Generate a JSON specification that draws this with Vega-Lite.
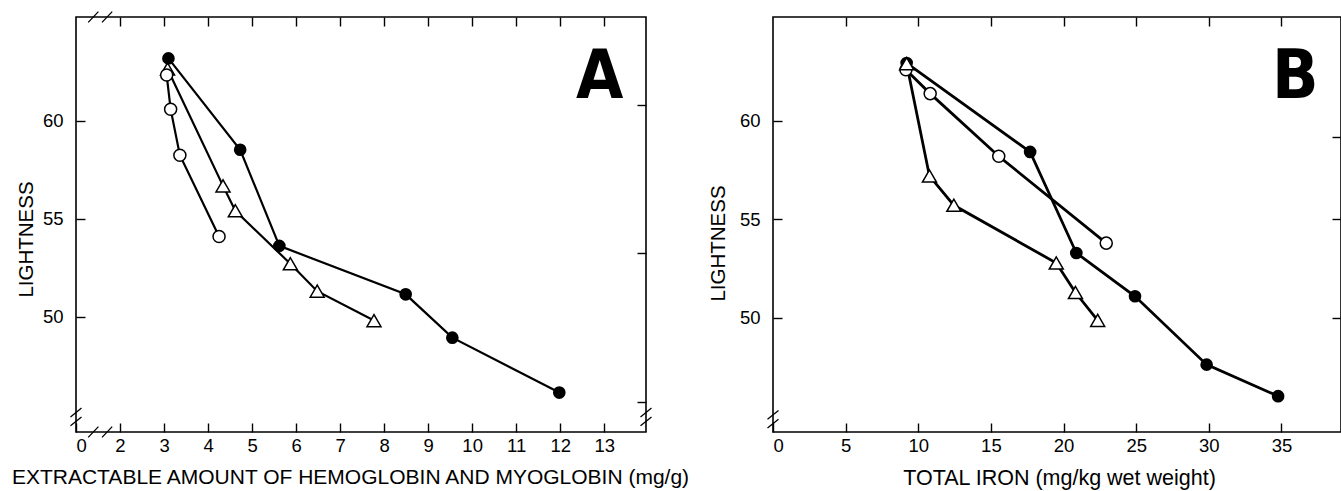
{
  "$schema": "https://vega.github.io/schema/vega-lite/v6.json",
  "background": "white",
  "padding": {"left": 9, "top": 8, "right": 0, "bottom": 0},
  "config": {
    "view": {"stroke": "black", "strokeWidth": 1.6},
    "font": "Liberation Sans",
    "axis": {
      "domain": false,
      "grid": false,
      "tickColor": "black",
      "tickSize": -9,
      "tickWidth": 1.4,
      "labelColor": "black",
      "labelFont": "Liberation Sans",
      "labelFontSize": 18.5,
      "titleColor": "black",
      "titleFont": "Liberation Sans",
      "titleFontSize": 20.5,
      "titleFontWeight": "normal"
    },
    "axisX": {"labelPadding": 13},
    "axisY": {"labelPadding": 22}
  },
  "datasets": {
    "curves": [
      {"panel": "A", "series": "filled", "x": 3.10, "y": 63.18},
      {"panel": "A", "series": "filled", "x": 4.73, "y": 58.52},
      {"panel": "A", "series": "filled", "x": 5.62, "y": 53.62},
      {"panel": "A", "series": "filled", "x": 8.49, "y": 51.15},
      {"panel": "A", "series": "filled", "x": 9.55, "y": 48.94},
      {"panel": "A", "series": "filled", "x": 11.98, "y": 46.14},
      {"panel": "A", "series": "open", "x": 3.06, "y": 62.33},
      {"panel": "A", "series": "open", "x": 3.15, "y": 60.59},
      {"panel": "A", "series": "open", "x": 3.36, "y": 58.24},
      {"panel": "A", "series": "open", "x": 4.25, "y": 54.10},
      {"panel": "A", "series": "triangle", "x": 3.08, "y": 62.64},
      {"panel": "A", "series": "triangle", "x": 4.34, "y": 56.68},
      {"panel": "A", "series": "triangle", "x": 4.62, "y": 55.41},
      {"panel": "A", "series": "triangle", "x": 5.87, "y": 52.71},
      {"panel": "A", "series": "triangle", "x": 6.48, "y": 51.31},
      {"panel": "A", "series": "triangle", "x": 7.77, "y": 49.81},
      {"panel": "B", "series": "filled", "x": 9.20, "y": 62.94},
      {"panel": "B", "series": "filled", "x": 17.70, "y": 58.43},
      {"panel": "B", "series": "filled", "x": 20.88, "y": 53.30},
      {"panel": "B", "series": "filled", "x": 24.92, "y": 51.10},
      {"panel": "B", "series": "filled", "x": 29.85, "y": 47.63},
      {"panel": "B", "series": "filled", "x": 34.77, "y": 46.03},
      {"panel": "B", "series": "open", "x": 9.15, "y": 62.60},
      {"panel": "B", "series": "open", "x": 10.82, "y": 61.39},
      {"panel": "B", "series": "open", "x": 15.54, "y": 58.21},
      {"panel": "B", "series": "open", "x": 22.94, "y": 53.80},
      {"panel": "B", "series": "triangle", "x": 9.20, "y": 62.91},
      {"panel": "B", "series": "triangle", "x": 10.77, "y": 57.21},
      {"panel": "B", "series": "triangle", "x": 12.45, "y": 55.72},
      {"panel": "B", "series": "triangle", "x": 19.50, "y": 52.79},
      {"panel": "B", "series": "triangle", "x": 20.82, "y": 51.29},
      {"panel": "B", "series": "triangle", "x": 22.35, "y": 49.88}
    ]
  },
  "spacing": 127,
  "bounds": "flush",
  "hconcat": [
    {
      "width": 570,
      "height": 415,
      "resolve": {"axis": {"x": "independent", "y": "independent"}},
      "layer": [
        {
          "data": {"name": "curves"},
          "transform": [{"filter": "datum.panel == 'A'"}],
          "mark": {"type": "line", "color": "black", "strokeWidth": 2.2},
          "encoding": {
            "x": {
              "field": "x", "type": "quantitative",
              "scale": {"domain": [1, 13.95], "nice": false, "zero": false},
              "axis": {
                "orient": "bottom",
                "values": [1, 2, 3, 4, 5, 6, 7, 8, 9, 10, 11, 12, 13],
                "labelExpr": "datum.value == 1 ? '0' : datum.label",
                "title": "EXTRACTABLE AMOUNT OF HEMOGLOBIN AND MYOGLOBIN (mg/g)",
                "titleFontSize": 21,
                "titleX": 274, "titleY": 51, "titleBaseline": "alphabetic"
              }
            },
            "y": {
              "field": "y", "type": "quantitative",
              "scale": {"domain": [44.13, 65.29], "nice": false, "zero": false},
              "axis": {
                "orient": "left",
                "values": [50, 55, 60],
                "title": "LIGHTNESS",
                "titleX": -44, "titleY": 222, "titleBaseline": "alphabetic"
              }
            },
            "detail": {"field": "series"}
          }
        },
        {
          "data": {"name": "curves"},
          "transform": [{"filter": "datum.panel == 'A' && datum.series == 'triangle'"}],
          "mark": {"type": "point", "shape": "triangle-up", "filled": true, "fill": "white", "stroke": "black", "strokeWidth": 1.5, "size": 196, "opacity": 1},
          "encoding": {
            "x": {"field": "x", "type": "quantitative", "axis": {"orient": "top", "values": [2, 3, 4, 5, 6, 7, 8, 9, 10, 11, 12, 13], "labels": false, "title": null}},
            "y": {"field": "y", "type": "quantitative", "axis": {"orient": "right", "values": [45.66, 53.25, 60.8], "labels": false, "title": null}}
          }
        },
        {
          "data": {"name": "curves"},
          "transform": [{"filter": "datum.panel == 'A' && datum.series == 'open'"}],
          "mark": {"type": "point", "shape": "circle", "filled": true, "fill": "white", "stroke": "black", "strokeWidth": 1.5, "size": 145, "opacity": 1},
          "encoding": {
            "x": {"field": "x", "type": "quantitative", "axis": null},
            "y": {"field": "y", "type": "quantitative", "axis": null}
          }
        },
        {
          "data": {"name": "curves"},
          "transform": [{"filter": "datum.panel == 'A' && datum.series == 'filled'"}],
          "mark": {"type": "point", "shape": "circle", "filled": true, "color": "black", "size": 160, "opacity": 1},
          "encoding": {
            "x": {"field": "x", "type": "quantitative", "axis": null},
            "y": {"field": "y", "type": "quantitative", "axis": null}
          }
        },
        {
          "data": {"values": [{"label": "A"}]},
          "mark": {"type": "text", "font": "Liberation Sans Narrow, DejaVu Sans Condensed", "fontWeight": "bold", "fontSize": 68, "align": "center", "baseline": "middle", "color": "black"},
          "encoding": {
            "x": {"datum": 12.9, "type": "quantitative", "axis": null},
            "y": {"datum": 62.16, "type": "quantitative", "axis": null},
            "text": {"field": "label"}
          }
        },
        {
          "data": {"values": [{"mark": "break"}]},
          "mark": {"type": "point", "shape": "M-1,0.45L-0.15,-0.45M0.15,0.45L1,-0.45", "filled": false, "color": "black", "strokeWidth": 1.3, "size": 576, "opacity": 1},
          "encoding": {
            "x": {"datum": 1.55, "type": "quantitative", "axis": null},
            "y": {"datum": 65.29, "type": "quantitative", "axis": null}
          }
        },
        {
          "data": {"values": [{"mark": "break"}]},
          "mark": {"type": "point", "shape": "M-1,0.45L-0.15,-0.45M0.15,0.45L1,-0.45", "filled": false, "color": "black", "strokeWidth": 1.3, "size": 576, "opacity": 1},
          "encoding": {
            "x": {"datum": 1.55, "type": "quantitative", "axis": null},
            "y": {"datum": 44.13, "type": "quantitative", "axis": null}
          }
        },
        {
          "data": {"values": [{"mark": "break"}]},
          "mark": {"type": "point", "shape": "M-0.5,0L0.5,-0.8M-0.5,0.8L0.5,0", "filled": false, "color": "black", "strokeWidth": 1.3, "size": 484, "opacity": 1},
          "encoding": {
            "x": {"datum": 1, "type": "quantitative", "axis": null},
            "y": {"datum": 44.9, "type": "quantitative", "axis": null}
          }
        },
        {
          "data": {"values": [{"mark": "break"}]},
          "mark": {"type": "point", "shape": "M-0.5,0L0.5,-0.8M-0.5,0.8L0.5,0", "filled": false, "color": "black", "strokeWidth": 1.3, "size": 484, "opacity": 1},
          "encoding": {
            "x": {"datum": 13.95, "type": "quantitative", "axis": null},
            "y": {"datum": 44.9, "type": "quantitative", "axis": null}
          }
        }
      ]
    },
    {
      "width": 568,
      "height": 415,
      "resolve": {"axis": {"x": "independent", "y": "independent"}},
      "layer": [
        {
          "data": {"name": "curves"},
          "transform": [{"filter": "datum.panel == 'B'"}],
          "mark": {"type": "line", "color": "black", "strokeWidth": 2.8},
          "encoding": {
            "x": {
              "field": "x", "type": "quantitative",
              "scale": {"domain": [0, 39.1], "nice": false, "zero": false},
              "axis": {
                "orient": "bottom",
                "values": [0, 5, 10, 15, 20, 25, 30, 35],
                "title": "TOTAL IRON (mg/kg wet weight)",
                "titleFontSize": 21.5,
                "titleX": 286, "titleY": 52, "titleBaseline": "alphabetic"
              }
            },
            "y": {
              "field": "y", "type": "quantitative",
              "scale": {"domain": [44.21, 65.28], "nice": false, "zero": false},
              "axis": {
                "orient": "left",
                "values": [50, 55, 60],
                "title": "LIGHTNESS",
                "titleX": -49, "titleY": 226, "titleBaseline": "alphabetic"
              }
            },
            "detail": {"field": "series"}
          }
        },
        {
          "data": {"name": "curves"},
          "transform": [{"filter": "datum.panel == 'B' && datum.series == 'filled'"}],
          "mark": {"type": "point", "shape": "circle", "filled": true, "color": "black", "size": 160, "opacity": 1},
          "encoding": {
            "x": {"field": "x", "type": "quantitative", "axis": {"orient": "top", "values": [5, 10, 15, 20, 25, 30, 35], "labels": false, "title": null}},
            "y": {"field": "y", "type": "quantitative", "axis": {"orient": "right", "values": [50, 55, 59.2], "labels": false, "title": null}}
          }
        },
        {
          "data": {"name": "curves"},
          "transform": [{"filter": "datum.panel == 'B' && datum.series == 'open'"}],
          "mark": {"type": "point", "shape": "circle", "filled": true, "fill": "white", "stroke": "black", "strokeWidth": 1.5, "size": 145, "opacity": 1},
          "encoding": {
            "x": {"field": "x", "type": "quantitative", "axis": null},
            "y": {"field": "y", "type": "quantitative", "axis": null}
          }
        },
        {
          "data": {"name": "curves"},
          "transform": [{"filter": "datum.panel == 'B' && datum.series == 'triangle'"}],
          "mark": {"type": "point", "shape": "triangle-up", "filled": true, "fill": "white", "stroke": "black", "strokeWidth": 1.5, "size": 196, "opacity": 1},
          "encoding": {
            "x": {"field": "x", "type": "quantitative", "axis": null},
            "y": {"field": "y", "type": "quantitative", "axis": null}
          }
        },
        {
          "data": {"values": [{"label": "B"}]},
          "mark": {"type": "text", "font": "Liberation Sans Narrow, DejaVu Sans Condensed", "fontWeight": "bold", "fontSize": 68, "align": "center", "baseline": "middle", "color": "black"},
          "encoding": {
            "x": {"datum": 35.96, "type": "quantitative", "axis": null},
            "y": {"datum": 62.17, "type": "quantitative", "axis": null},
            "text": {"field": "label"}
          }
        },
        {
          "data": {"values": [{"mark": "break"}]},
          "mark": {"type": "point", "shape": "M-0.5,0L0.5,-0.8M-0.5,0.8L0.5,0", "filled": false, "color": "black", "strokeWidth": 1.3, "size": 484, "opacity": 1},
          "encoding": {
            "x": {"datum": 0, "type": "quantitative", "axis": null},
            "y": {"datum": 44.86, "type": "quantitative", "axis": null}
          }
        }
      ]
    }
  ]
}
